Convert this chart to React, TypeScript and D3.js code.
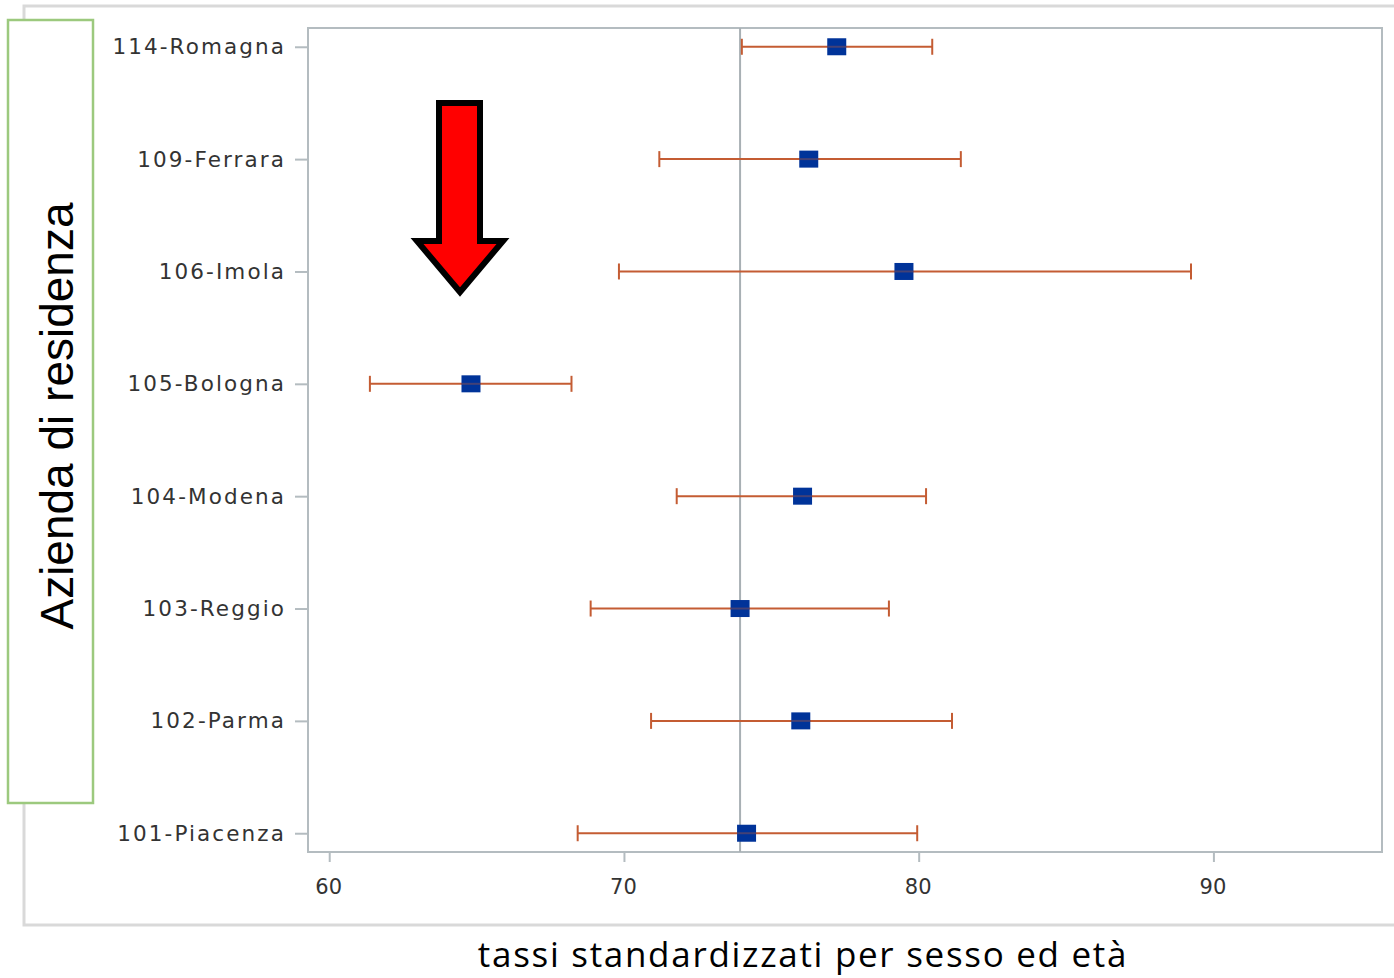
import * as d3 from "d3";
import React, { useRef, useEffect } from "react";

const width = 1394;
const height = 978;

const frame = { left: 308, right: 1382, top: 28, bottom: 852 };

// dati
const aziende = [
  "114-Romagna",
  "109-Ferrara",
  "106-Imola",
  "105-Bologna",
  "104-Modena",
  "103-Reggio",
  "102-Parma",
  "101-Piacenza",
];
const tassi = [77.22, 76.27, 79.5, 64.81, 76.06, 73.94, 76.0, 74.16];
const limInf = [74.0, 71.2, 69.83, 61.38, 71.79, 68.87, 70.92, 68.43];
const limSup = [80.46, 81.43, 89.24, 68.22, 80.25, 78.99, 81.13, 79.95];
const tassoRegionale = 73.94;
const xTicks = [60, 70, 80, 90];
const xDomain = [59.28, 95.72];

const labelFont = "'DejaVu Sans', Verdana, sans-serif";

const App = () => {
  const ref = useRef<SVGSVGElement>(null);

  useEffect(() => {
    const svg = d3.select(ref.current);
    svg.selectAll("*").remove();

    const x = d3.scaleLinear().domain(xDomain).range([frame.left, frame.right]);
    const y = d3
      .scalePoint<string>()
      .domain(aziende)
      .range([frame.top, frame.bottom])
      .padding(0.167);

    // cornice esterna
    svg
      .append("path")
      .attr("d", `M${width},6 H24 V925 H${width}`)
      .attr("fill", "none")
      .attr("stroke", "#d9d9d9")
      .attr("stroke-width", 3);

    // riquadro titolo asse y
    svg
      .append("rect")
      .attr("x", 8)
      .attr("y", 20)
      .attr("width", 85)
      .attr("height", 783)
      .attr("fill", "#fff")
      .attr("stroke", "#9cc97e")
      .attr("stroke-width", 2.5);

    svg
      .append("text")
      .attr("transform", `translate(73, 416) rotate(-90)`)
      .attr("text-anchor", "middle")
      .attr("font-family", "'Liberation Sans', Arial, sans-serif")
      .attr("font-size", 46)
      .attr("fill", "#000")
      .text("Azienda di residenza");

    // asse x
    const gx = svg
      .append("g")
      .attr("transform", `translate(0, ${frame.bottom})`)
      .call(d3.axisBottom(x).tickValues(xTicks).tickSize(10).tickPadding(17));
    gx.select(".domain").remove();
    gx.selectAll("line").attr("stroke", "#b4bcc0").attr("stroke-width", 2);
    gx.selectAll("text")
      .attr("font-family", labelFont)
      .attr("font-size", 21)
      .attr("dx", -1)
      .attr("fill", "#333");

    // asse y
    const gy = svg
      .append("g")
      .attr("transform", `translate(${frame.left}, 0)`)
      .call(d3.axisLeft(y).tickSize(13).tickPadding(9));
    gy.select(".domain").remove();
    gy.selectAll("line").attr("stroke", "#b4bcc0").attr("stroke-width", 2);
    gy.selectAll("text")
      .attr("font-family", labelFont)
      .attr("font-size", 21.5)
      .attr("letter-spacing", 2.1)
      .attr("fill", "#333");

    // riquadro area grafico
    svg
      .append("rect")
      .attr("x", frame.left)
      .attr("y", frame.top)
      .attr("width", frame.right - frame.left)
      .attr("height", frame.bottom - frame.top)
      .attr("fill", "none")
      .attr("stroke", "#b4bcc0")
      .attr("stroke-width", 2);

    // linea di riferimento
    svg
      .append("line")
      .attr("x1", x(tassoRegionale))
      .attr("x2", x(tassoRegionale))
      .attr("y1", frame.top)
      .attr("y2", frame.bottom)
      .attr("stroke", "#a8b0b4")
      .attr("stroke-width", 2);

    const rows = aziende.map((a, i) => ({
      azienda: a,
      tasso: tassi[i],
      lo: limInf[i],
      hi: limSup[i],
    }));

    const bars = svg.append("g").attr("class", "bars");
    const g = bars
      .selectAll(".bar")
      .data(rows)
      .join("g")
      .attr("class", "bar")
      .attr("transform", (d) => `translate(0, ${y(d.azienda)})`);

    const errColor = "#c45c33";
    g.append("line")
      .attr("x1", (d) => x(d.lo))
      .attr("x2", (d) => x(d.hi))
      .attr("stroke", errColor)
      .attr("stroke-width", 2);
    g.append("line")
      .attr("x1", (d) => x(d.lo))
      .attr("x2", (d) => x(d.lo))
      .attr("y1", -8)
      .attr("y2", 8)
      .attr("stroke", errColor)
      .attr("stroke-width", 2);
    g.append("line")
      .attr("x1", (d) => x(d.hi))
      .attr("x2", (d) => x(d.hi))
      .attr("y1", -8)
      .attr("y2", 8)
      .attr("stroke", errColor)
      .attr("stroke-width", 2);
    g.append("rect")
      .attr("x", (d) => x(d.tasso) - 9.5)
      .attr("y", -8.5)
      .attr("width", 19)
      .attr("height", 17)
      .attr("fill", "#003399");
    g.append("line")
      .attr("x1", (d) => x(d.tasso) - 9.5)
      .attr("x2", (d) => x(d.tasso) + 9.5)
      .attr("stroke", errColor)
      .attr("stroke-opacity", 0.35)
      .attr("stroke-width", 2);

    // freccia rossa
    svg
      .append("path")
      .attr("d", "M439,103 H480 V241 H503 L460,292 L417,241 H439 Z")
      .attr("fill", "#ff0000")
      .attr("stroke", "#000")
      .attr("stroke-width", 6)
      .attr("stroke-linejoin", "miter");

    // titolo asse x
    svg
      .append("text")
      .attr("x", 803)
      .attr("y", 967)
      .attr("text-anchor", "middle")
      .attr("font-family", "'Open Sans', 'Noto Sans', sans-serif")
      .attr("font-size", 35)
      .attr("letter-spacing", 1.7)
      .attr("fill", "#000")
      .text("tassi standardizzati per sesso ed età");
  }, []);

  return (
    <svg
      ref={ref}
      width={width}
      height={height}
      style={{ position: "absolute", left: 0, top: 0, background: "#fff" }}
    ></svg>
  );
};

export default App;
